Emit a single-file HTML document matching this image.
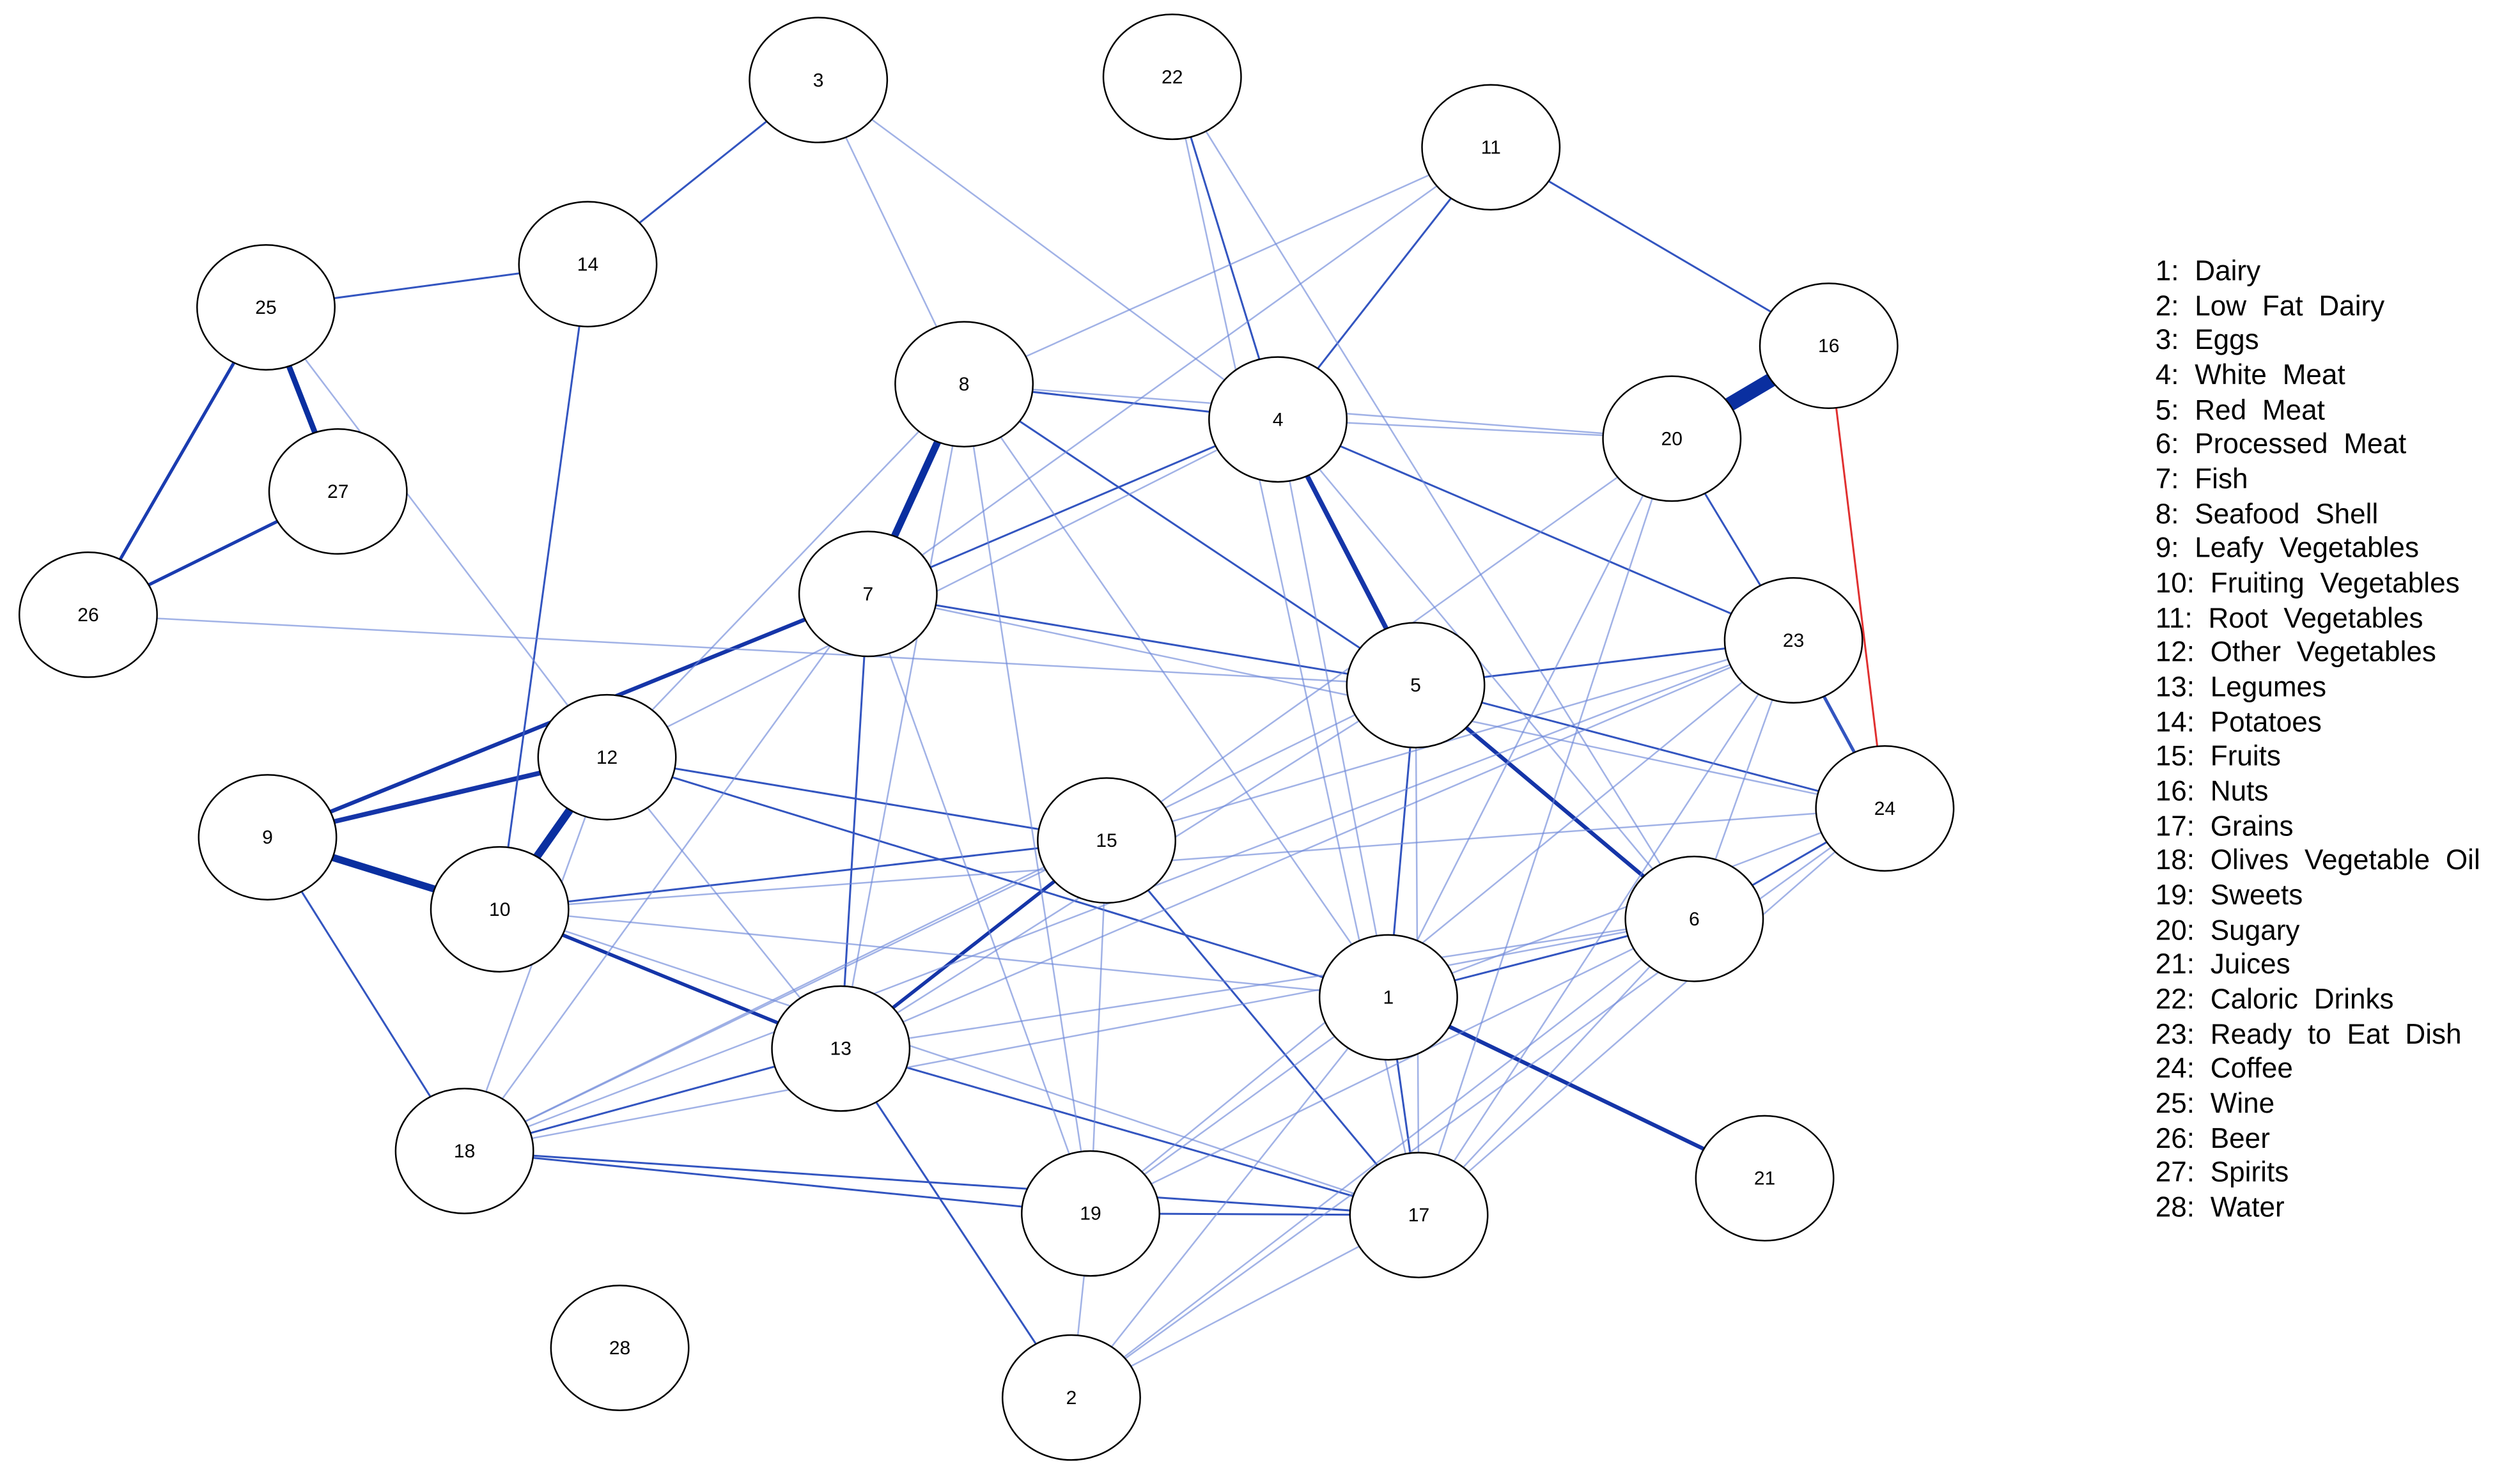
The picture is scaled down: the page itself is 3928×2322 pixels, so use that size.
<!DOCTYPE html>
<html><head><meta charset="utf-8"><style>
html,body{margin:0;padding:0;background:#fff;}
svg{display:block;}
</style></head><body>
<svg width="3928" height="2322" viewBox="0 0 1568 927" xmlns="http://www.w3.org/2000/svg">
<rect width="1568" height="927" fill="#fff"/>
<g stroke="#2244bb" fill="none" stroke-linecap="round">
<line x1="1044" y1="274" x2="1142" y2="216" stroke-width="9" stroke="#0a2fa0"/>
<line x1="602" y1="240" x2="542" y2="371" stroke-width="4.5" stroke="#0a2fa0"/>
<line x1="379" y1="473" x2="312" y2="568" stroke-width="5" stroke="#0a2fa0"/>
<line x1="167" y1="523" x2="312" y2="568" stroke-width="4.5" stroke="#0a2fa0"/>
<line x1="167" y1="523" x2="379" y2="473" stroke-width="3" stroke="#1535a8"/>
<line x1="167" y1="523" x2="542" y2="371" stroke-width="2.5" stroke="#1535a8"/>
<line x1="166" y1="192" x2="211" y2="307" stroke-width="3.5" stroke="#0a2fa0"/>
<line x1="798" y1="262" x2="884" y2="428" stroke-width="3" stroke="#1535a8"/>
<line x1="884" y1="428" x2="1058" y2="574" stroke-width="2.5" stroke="#1535a8"/>
<line x1="867" y1="623" x2="1102" y2="736" stroke-width="2.5" stroke="#1535a8"/>
<line x1="691" y1="525" x2="525" y2="655" stroke-width="2.2" stroke="#1535a8"/>
<line x1="312" y1="568" x2="525" y2="655" stroke-width="2.2" stroke="#1535a8"/>
<line x1="166" y1="192" x2="55" y2="384" stroke-width="2" stroke="#1a3cb0"/>
<line x1="55" y1="384" x2="211" y2="307" stroke-width="2" stroke="#1a3cb0"/>
<g stroke-width="1.2" stroke="#3355c0">
<line x1="511" y1="50" x2="367" y2="165"/>
<line x1="367" y1="165" x2="166" y2="192"/>
<line x1="367" y1="165" x2="312" y2="568"/>
<line x1="931" y1="92" x2="1142" y2="216"/>
<line x1="931" y1="92" x2="798" y2="262"/>
<line x1="1044" y1="274" x2="1120" y2="400"/>
<line x1="1120" y1="400" x2="1177" y2="505" stroke-width="2"/>
<line x1="379" y1="473" x2="867" y2="623"/>
<line x1="732" y1="48" x2="798" y2="262"/>
<line x1="542" y1="371" x2="798" y2="262"/>
<line x1="884" y1="428" x2="1120" y2="400"/>
<line x1="884" y1="428" x2="1177" y2="505"/>
<line x1="884" y1="428" x2="867" y2="623"/>
<line x1="798" y1="262" x2="1120" y2="400"/>
<line x1="525" y1="655" x2="886" y2="759"/>
<line x1="542" y1="371" x2="525" y2="655"/>
<line x1="691" y1="525" x2="886" y2="759"/>
<line x1="167" y1="523" x2="290" y2="719"/>
<line x1="290" y1="719" x2="886" y2="759"/>
<line x1="290" y1="719" x2="681" y2="758"/>
<line x1="525" y1="655" x2="669" y2="873"/>
<line x1="867" y1="623" x2="1058" y2="574"/>
<line x1="867" y1="623" x2="886" y2="759"/>
<line x1="602" y1="240" x2="884" y2="428"/>
<line x1="542" y1="371" x2="884" y2="428"/>
<line x1="379" y1="473" x2="691" y2="525"/>
<line x1="312" y1="568" x2="691" y2="525"/>
<line x1="681" y1="758" x2="886" y2="759"/>
<line x1="290" y1="719" x2="525" y2="655"/>
<line x1="1058" y1="574" x2="1177" y2="505"/>
<line x1="602" y1="240" x2="798" y2="262"/>
</g>
<g stroke-width="1" stroke="#6f88d8" stroke-opacity="0.65">
<line x1="511" y1="50" x2="798" y2="262"/>
<line x1="511" y1="50" x2="602" y2="240"/>
<line x1="602" y1="240" x2="931" y2="92"/>
<line x1="732" y1="48" x2="1058" y2="574"/>
<line x1="732" y1="48" x2="886" y2="759"/>
<line x1="55" y1="384" x2="884" y2="428"/>
<line x1="542" y1="371" x2="1177" y2="505"/>
<line x1="798" y1="262" x2="1058" y2="574"/>
<line x1="1044" y1="274" x2="691" y2="525"/>
<line x1="1044" y1="274" x2="867" y2="623"/>
<line x1="1044" y1="274" x2="886" y2="759"/>
<line x1="1120" y1="400" x2="1058" y2="574"/>
<line x1="1120" y1="400" x2="886" y2="759"/>
<line x1="1120" y1="400" x2="525" y2="655"/>
<line x1="1177" y1="505" x2="886" y2="759"/>
<line x1="1177" y1="505" x2="312" y2="568"/>
<line x1="1177" y1="505" x2="867" y2="623"/>
<line x1="1058" y1="574" x2="886" y2="759"/>
<line x1="1058" y1="574" x2="681" y2="758"/>
<line x1="884" y1="428" x2="290" y2="719"/>
<line x1="884" y1="428" x2="525" y2="655"/>
<line x1="884" y1="428" x2="886" y2="759"/>
<line x1="867" y1="623" x2="681" y2="758"/>
<line x1="867" y1="623" x2="669" y2="873"/>
<line x1="886" y1="759" x2="669" y2="873"/>
<line x1="681" y1="758" x2="669" y2="873"/>
<line x1="542" y1="371" x2="681" y2="758"/>
<line x1="602" y1="240" x2="681" y2="758"/>
<line x1="602" y1="240" x2="525" y2="655"/>
<line x1="602" y1="240" x2="379" y2="473"/>
<line x1="602" y1="240" x2="867" y2="623"/>
<line x1="798" y1="262" x2="867" y2="623"/>
<line x1="798" y1="262" x2="379" y2="473"/>
<line x1="379" y1="473" x2="525" y2="655"/>
<line x1="379" y1="473" x2="290" y2="719"/>
<line x1="312" y1="568" x2="886" y2="759"/>
<line x1="312" y1="568" x2="867" y2="623"/>
<line x1="166" y1="192" x2="379" y2="473"/>
<line x1="691" y1="525" x2="290" y2="719"/>
<line x1="691" y1="525" x2="1120" y2="400"/>
<line x1="691" y1="525" x2="681" y2="758"/>
<line x1="290" y1="719" x2="1120" y2="400"/>
<line x1="290" y1="719" x2="1058" y2="574"/>
<line x1="525" y1="655" x2="1058" y2="574"/>
<line x1="681" y1="758" x2="1120" y2="400"/>
<line x1="669" y1="873" x2="1177" y2="505"/>
<line x1="669" y1="873" x2="1058" y2="574"/>
<line x1="542" y1="371" x2="290" y2="719"/>
<line x1="931" y1="92" x2="542" y2="371"/>
<line x1="798" y1="262" x2="1044" y2="274"/>
<line x1="602" y1="240" x2="1044" y2="274"/>
</g>
<line x1="1142" y1="216" x2="1177" y2="505" stroke="#e03030" stroke-width="1.2"/>
</g>
<g fill="#fff" stroke="#000" stroke-width="1">
<ellipse cx="511" cy="50" rx="43" ry="39"/>
<ellipse cx="732" cy="48" rx="43" ry="39"/>
<ellipse cx="931" cy="92" rx="43" ry="39"/>
<ellipse cx="367" cy="165" rx="43" ry="39"/>
<ellipse cx="166" cy="192" rx="43" ry="39"/>
<ellipse cx="1142" cy="216" rx="43" ry="39"/>
<ellipse cx="602" cy="240" rx="43" ry="39"/>
<ellipse cx="798" cy="262" rx="43" ry="39"/>
<ellipse cx="1044" cy="274" rx="43" ry="39"/>
<ellipse cx="211" cy="307" rx="43" ry="39"/>
<ellipse cx="542" cy="371" rx="43" ry="39"/>
<ellipse cx="55" cy="384" rx="43" ry="39"/>
<ellipse cx="1120" cy="400" rx="43" ry="39"/>
<ellipse cx="884" cy="428" rx="43" ry="39"/>
<ellipse cx="379" cy="473" rx="43" ry="39"/>
<ellipse cx="1177" cy="505" rx="43" ry="39"/>
<ellipse cx="167" cy="523" rx="43" ry="39"/>
<ellipse cx="691" cy="525" rx="43" ry="39"/>
<ellipse cx="312" cy="568" rx="43" ry="39"/>
<ellipse cx="1058" cy="574" rx="43" ry="39"/>
<ellipse cx="867" cy="623" rx="43" ry="39"/>
<ellipse cx="525" cy="655" rx="43" ry="39"/>
<ellipse cx="290" cy="719" rx="43" ry="39"/>
<ellipse cx="1102" cy="736" rx="43" ry="39"/>
<ellipse cx="681" cy="758" rx="43" ry="39"/>
<ellipse cx="886" cy="759" rx="43" ry="39"/>
<ellipse cx="387" cy="842" rx="43" ry="39"/>
<ellipse cx="669" cy="873" rx="43" ry="39"/>
</g>
<g font-family="Liberation Sans, sans-serif" font-size="12" text-anchor="middle" fill="#000">
<text x="511" y="54">3</text><text x="732" y="52">22</text><text x="931" y="96">11</text>
<text x="367" y="169">14</text><text x="166" y="196">25</text><text x="1142" y="220">16</text>
<text x="602" y="244">8</text><text x="798" y="266">4</text><text x="1044" y="278">20</text>
<text x="211" y="311">27</text><text x="542" y="375">7</text><text x="55" y="388">26</text>
<text x="1120" y="404">23</text><text x="884" y="432">5</text><text x="379" y="477">12</text>
<text x="1177" y="509">24</text><text x="167" y="527">9</text><text x="691" y="529">15</text>
<text x="312" y="572">10</text><text x="1058" y="578">6</text><text x="867" y="627">1</text>
<text x="525" y="659">13</text><text x="290" y="723">18</text><text x="1102" y="740">21</text>
<text x="681" y="762">19</text><text x="886" y="763">17</text><text x="387" y="846">28</text>
<text x="669" y="877">2</text>
</g>
<g font-family="Liberation Sans, sans-serif" font-size="17.6" fill="#000" word-spacing="5">
<text x="1346" y="175">1: Dairy</text>
<text x="1346" y="197">2: Low Fat Dairy</text>
<text x="1346" y="218">3: Eggs</text>
<text x="1346" y="240">4: White Meat</text>
<text x="1346" y="262">5: Red Meat</text>
<text x="1346" y="283">6: Processed Meat</text>
<text x="1346" y="305">7: Fish</text>
<text x="1346" y="327">8: Seafood Shell</text>
<text x="1346" y="348">9: Leafy Vegetables</text>
<text x="1346" y="370">10: Fruiting Vegetables</text>
<text x="1346" y="392">11: Root Vegetables</text>
<text x="1346" y="413">12: Other Vegetables</text>
<text x="1346" y="435">13: Legumes</text>
<text x="1346" y="457">14: Potatoes</text>
<text x="1346" y="478">15: Fruits</text>
<text x="1346" y="500">16: Nuts</text>
<text x="1346" y="522">17: Grains</text>
<text x="1346" y="543">18: Olives Vegetable Oil</text>
<text x="1346" y="565">19: Sweets</text>
<text x="1346" y="587">20: Sugary</text>
<text x="1346" y="608">21: Juices</text>
<text x="1346" y="630">22: Caloric Drinks</text>
<text x="1346" y="652">23: Ready to Eat Dish</text>
<text x="1346" y="673">24: Coffee</text>
<text x="1346" y="695">25: Wine</text>
<text x="1346" y="717">26: Beer</text>
<text x="1346" y="738">27: Spirits</text>
<text x="1346" y="760">28: Water</text>
</g>
</svg>
</body></html>
